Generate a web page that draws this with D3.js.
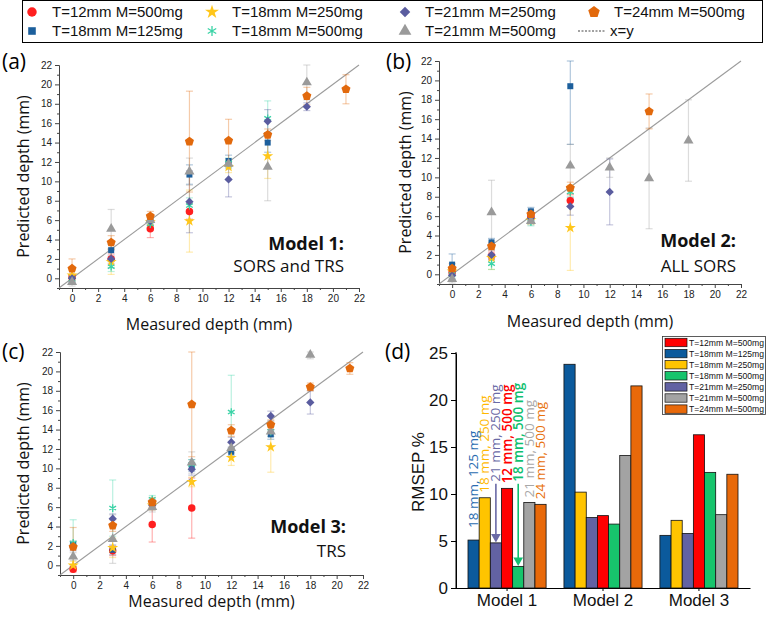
<!DOCTYPE html>
<html>
<head>
<meta charset="utf-8">
<script src="https://cdn.jsdelivr.net/npm/d3@7"></script>
<style>
  body { margin: 0; background: #fff; }
  svg { display: block; font-family: "Liberation Sans", Arial, sans-serif; }
</style>
</head>
<body>
<svg id="fig" width="767" height="621"></svg>
<script>
// ---- data ----
var seriesNames = ["T=12mm M=500mg", "T=18mm M=125mg", "T=18mm M=250mg", "T=18mm M=500mg",
                   "T=21mm M=250mg", "T=21mm M=500mg", "T=24mm M=500mg"];
var barLabels = ["12 mm, 500 mg", "18 mm, 125 mg", "18 mm, 250 mg", "18 mm, 500 mg",
                 "21 mm, 250 mg", "21 mm, 500 mg", "24 mm, 500 mg"];

// measured depth (mm) for each series
var measured = [
  [0, 3, 6, 9],
  [0, 3, 6, 9, 12, 15],
  [0, 3, 6, 9, 12, 15],
  [0, 3, 6, 9, 12, 15],
  [0, 3, 6, 9, 12, 15, 18],
  [0, 3, 6, 9, 12, 15, 18],
  [0, 3, 6, 9, 12, 15, 18, 21]
];

// (a) Model 1: SORS and TRS
var predA = [
  [0.1, 2.0, 5.1, 6.9],
  [0.0, 2.9, 6.1, 10.7, 12.1, 14.0],
  [0.3, 1.7, 5.8, 5.9, 11.5, 12.6],
  [-0.1, 1.2, 5.6, 7.5, 11.9, 16.5],
  [0.0, 2.0, 5.9, 7.9, 10.2, 16.2, 17.7],
  [-0.4, 5.1, 6.0, 11.0, 11.8, 11.5, 20.2],
  [1.0, 3.7, 6.4, 14.1, 14.2, 14.8, 18.8, 19.5]
];
var sdA = [
  [0.3, 0.5, 0.9, 0.8],
  [0.4, 0.6, 0.5, 1.0, 0.6, 1.0],
  [0.5, 1.3, 0.5, 3.2, 0.6, 2.3],
  [0.4, 0.5, 0.5, 0.8, 0.5, 1.8],
  [0.3, 0.9, 0.4, 3.2, 1.8, 1.2, 0.4],
  [0.4, 2.0, 0.5, 1.4, 0.5, 3.5, 1.8],
  [1.0, 0.7, 0.5, 5.2, 2.2, 0.6, 0.9, 1.5]
];

// (b) Model 2: ALL SORS
var predB = [
  [0.2, 1.9, 6.0, 7.6],
  [1.0, 3.3, 6.5, 19.4, null, null],
  [0.3, 1.7, 5.6, 4.8, null, null],
  [0.0, 1.1, 5.4, 8.5, null, null],
  [-0.1, 2.0, 5.8, 7.0, 8.5, null, null],
  [-0.5, 6.4, 5.5, 11.2, 11.0, 9.9, 13.8],
  [0.6, 2.9, 6.2, 8.9, null, 16.8, null, null]
];
var sdB = [
  [0.3, 0.4, 0.4, 0.6],
  [1.1, 0.4, 0.4, 6.0, 0, 0],
  [0.5, 1.2, 0.4, 4.4, 0, 0],
  [0.4, 0.6, 0.4, 0.5, 0, 0],
  [0.4, 0.5, 0.4, 0.9, 3.4, 0, 0],
  [0.4, 3.3, 0.4, 2.2, 1.0, 5.2, 4.2],
  [0.5, 0.4, 0.4, 0.6, 0, 1.8, 0, 0]
];

// (c) Model 3: TRS
var predC = [
  [-0.4, 1.5, 4.2, 5.9],
  [2.1, 1.6, 6.3, 10.3, 11.7, 13.5],
  [0.0, 1.8, 6.2, 8.6, 11.1, 12.2],
  [2.3, 5.9, 6.8, 10.4, 15.8, 13.8],
  [1.9, 4.8, 6.2, 9.9, 12.7, 15.4, 16.8],
  [0.9, 2.7, 6.0, 10.6, 12.1, 13.8, 21.7],
  [1.9, 4.1, 6.5, 16.6, 13.9, 14.5, 18.4, 20.3]
];
var sdC = [
  [0.3, 0.5, 1.8, 3.1],
  [0.4, 0.5, 0.5, 0.6, 0.4, 0.5],
  [0.4, 1.0, 0.5, 0.5, 0.8, 2.6],
  [2.4, 2.9, 0.4, 0.5, 3.8, 0.5],
  [0.4, 0.5, 0.5, 0.6, 0.5, 0.5, 1.2],
  [0.4, 2.5, 0.5, 1.1, 0.5, 0.5, 0.4],
  [2.0, 0.6, 0.5, 5.4, 0.6, 0.5, 0.4, 0.6]
];

// (d) RMSEP % per series, per model
var models = ["Model 1", "Model 2", "Model 3"];
var rmsep = [
  [10.6, 7.7, 16.3],
  [5.1, 23.8, 5.6],
  [9.6, 10.2, 7.2],
  [2.3, 6.8, 12.3],
  [4.8, 7.5, 5.8],
  [9.1, 14.1, 7.8],
  [8.9, 21.5, 12.1]
];
var barOrder = [1, 2, 4, 0, 3, 5, 6];
var depthTicks = [0, 2, 4, 6, 8, 10, 12, 14, 16, 18, 20, 22];
var depthMinor = [-1, 1, 3, 5, 7, 9, 11, 13, 15, 17, 19, 21];
var rmsepTicks = [0, 5, 10, 15, 20, 25];

// ---- styles ----
var markColors = ["#ff1f1f", "#1c5f9c", "#ffc61a", "#3ad3a6", "#5a5c9f", "#9a9a9a", "#e2690c"];
var barColors  = ["#ff0000", "#0b5a9c", "#ffc400", "#17c46c", "#6262a3", "#a3a3a3", "#e8690a"];
var textColors = ["#ff0000", "#2a6cb0", "#ffb800", "#10c070", "#6a6aa6", "#a8a8a8", "#e8700a"];

var symbolPentagon = {
  draw: function(ctx, size) {
    var r = Math.sqrt(size / (2.5 * Math.sin(2 * Math.PI / 5)));
    for (var i = 0; i < 5; i++) {
      var a = -Math.PI / 2 + i * 2 * Math.PI / 5;
      if (i === 0) ctx.moveTo(r * Math.cos(a), r * Math.sin(a));
      else ctx.lineTo(r * Math.cos(a), r * Math.sin(a));
    }
    ctx.closePath();
  }
};
var shapes = [d3.symbolCircle, d3.symbolSquare, d3.symbolStar, d3.symbolAsterisk || d3.symbolCross,
              d3.symbolDiamond2 || d3.symbolDiamond, d3.symbolTriangle, symbolPentagon];
var sizes = [44, 36, 38, 42, 44, 44, 54];

var svg = d3.select("#fig");

// ---- top legend ----
var leg = svg.append("g");
leg.append("rect").attr("x", 22.5).attr("y", 0.5).attr("width", 740).attr("height", 42)
  .attr("fill", "none").attr("stroke", "#000").attr("stroke-width", 1);
var legColX = [32, 212, 405, 594];
var legRowY = [12, 31];
seriesNames.forEach(function(name, i) {
  var cx = legColX[Math.floor(i / 2)], cy = legRowY[i % 2];
  var p = leg.append("path")
    .attr("d", d3.symbol().type(shapes[i]).size(sizes[i] * 1.6)())
    .attr("transform", "translate(" + cx + "," + cy + ")");
  if (i === 3) p.attr("fill", "none").attr("stroke", markColors[i]).attr("stroke-width", 1.3);
  else p.attr("fill", markColors[i]);
  leg.append("text").attr("x", cx + 20).attr("y", cy).attr("dy", "0.35em")
    .attr("font-size", 15).attr("fill", "#111").text(name);
});
leg.append("line").attr("x1", legColX[3] - 16).attr("x2", legColX[3] + 12)
  .attr("y1", legRowY[1]).attr("y2", legRowY[1])
  .attr("stroke", "#444").attr("stroke-width", 1).attr("stroke-dasharray", "2,1.5");
leg.append("text").attr("x", legColX[3] + 16).attr("y", legRowY[1]).attr("dy", "0.35em")
  .attr("font-size", 15).attr("fill", "#111").text("x=y");

// ---- scatter panels ----
function scatterPanel(cfg) {
  var g = svg.append("g");
  var x = d3.scaleLinear().domain([-1, 22]).range(cfg.xr);
  var y = d3.scaleLinear().domain([-1, 22]).range(cfg.yr);
  var yc = y.copy().clamp(true);

  function styleAxis(a) {
    a.select(".domain").attr("stroke", "#444");
    a.selectAll(".tick line").attr("stroke", "#444");
    a.selectAll("text").attr("font-size", 10).attr("fill", "#222")
      .attr("font-family", "'Liberation Sans', Arial, sans-serif");
  }
  var ax = g.append("g").attr("transform", "translate(0," + cfg.yr[0] + ")")
    .call(d3.axisBottom(x).tickValues(depthTicks).tickSize(4).tickSizeOuter(0).tickPadding(3));
  styleAxis(ax);
  var axm = g.append("g").attr("transform", "translate(0," + cfg.yr[0] + ")")
    .call(d3.axisBottom(x).tickValues(depthMinor).tickSize(2).tickSizeOuter(0).tickFormat(""));
  styleAxis(axm);
  var ay = g.append("g").attr("transform", "translate(" + cfg.xr[0] + ",0)")
    .call(d3.axisLeft(y).tickValues(depthTicks).tickSize(4).tickSizeOuter(0).tickPadding(3));
  styleAxis(ay);
  var aym = g.append("g").attr("transform", "translate(" + cfg.xr[0] + ",0)")
    .call(d3.axisLeft(y).tickValues(depthMinor).tickSize(2).tickSizeOuter(0).tickFormat(""));
  styleAxis(aym);

  // x = y line
  g.append("line")
    .attr("x1", x(-1)).attr("y1", y(-1)).attr("x2", x(22)).attr("y2", y(22))
    .attr("stroke", "#9c9c9c").attr("stroke-width", 1.1);

  var pts = [];
  measured.forEach(function(ms, s) {
    ms.forEach(function(m, i) {
      var p = cfg.pred[s][i];
      if (p == null) return;
      pts.push({ s: s, m: m, p: p, e: cfg.sd[s][i] || 0 });
    });
  });

  var eb = g.selectAll("g.err").data(pts.filter(function(d) { return d.e > 0; }))
    .enter().append("g").attr("class", "err")
    .attr("stroke", function(d) { return markColors[d.s]; })
    .attr("stroke-opacity", 0.35).attr("stroke-width", 1.2);
  eb.append("line")
    .attr("x1", function(d) { return x(d.m); }).attr("x2", function(d) { return x(d.m); })
    .attr("y1", function(d) { return yc(d.p - d.e); }).attr("y2", function(d) { return yc(d.p + d.e); });
  [-1, 1].forEach(function(sg) {
    eb.append("line")
      .attr("x1", function(d) { return x(d.m) - 3.5; }).attr("x2", function(d) { return x(d.m) + 3.5; })
      .attr("y1", function(d) { return yc(d.p + sg * d.e); }).attr("y2", function(d) { return yc(d.p + sg * d.e); });
  });

  g.selectAll("path.pt").data(pts).enter().append("path").attr("class", "pt")
    .attr("d", function(d) { return d3.symbol().type(shapes[d.s]).size(sizes[d.s])(); })
    .attr("transform", function(d) { return "translate(" + x(d.m) + "," + y(d.p) + ")"; })
    .attr("fill", function(d) { return d.s === 3 ? "none" : markColors[d.s]; })
    .attr("stroke", function(d) { return d.s === 3 ? markColors[d.s] : "none"; })
    .attr("stroke-width", 1.3);

  // labels
  g.append("text").attr("x", cfg.letter[1]).attr("y", cfg.letter[2])
    .attr("font-family", "'Open Sans', sans-serif").attr("font-size", 21).text(cfg.letter[0]);
  g.append("text")
    .attr("transform", "translate(" + cfg.ylabX + "," + ((cfg.yr[0] + cfg.yr[1]) / 2) + ") rotate(-90)")
    .attr("text-anchor", "middle").attr("font-family", "'Open Sans', sans-serif")
    .attr("font-size", 16).attr("fill", "#111").text("Predicted depth (mm)");
  g.append("text").attr("x", (cfg.xr[0] + cfg.xr[1]) / 2).attr("y", cfg.xlabY)
    .attr("text-anchor", "middle").attr("font-family", "'Open Sans', sans-serif")
    .attr("font-size", 16).attr("fill", "#111").text("Measured depth (mm)");
  g.append("text").attr("x", cfg.modelX).attr("y", cfg.modelY[0]).attr("text-anchor", "end")
    .attr("font-family", "'Open Sans', sans-serif").attr("font-weight", "bold")
    .attr("font-size", 18).attr("fill", "#111").text(cfg.model[0]);
  g.append("text").attr("x", cfg.modelX).attr("y", cfg.modelY[1]).attr("text-anchor", "end")
    .attr("font-family", "'Open Sans', sans-serif")
    .attr("font-size", 17).attr("fill", "#111").text(cfg.model[1]);
}

scatterPanel({ xr: [59, 359], yr: [288, 65], pred: predA, sd: sdA,
  letter: ["(a)", 2, 69], ylabX: 29, xlabY: 330,
  model: ["Model 1:", "SORS and TRS"], modelX: 344, modelY: [250, 272] });
scatterPanel({ xr: [439, 741], yr: [284, 61], pred: predB, sd: sdB,
  letter: ["(b)", 386, 69], ylabX: 411, xlabY: 327,
  model: ["Model 2:", "ALL SORS"], modelX: 736, modelY: [247, 272] });
scatterPanel({ xr: [60, 363], yr: [575, 352], pred: predC, sd: sdC,
  letter: ["(c)", 2, 359], ylabX: 29, xlabY: 607,
  model: ["Model 3:", "TRS"], modelX: 346, modelY: [533, 557] });

// ---- (d) RMSEP bars ----
var gd = svg.append("g");
var xb = d3.scaleBand().domain(models).range([456, 750]).paddingInner(0.186).paddingOuter(0.125);
var xs = d3.scaleBand().domain(barOrder).range([0, xb.bandwidth()]);
var yb = d3.scaleLinear().domain([0, 25]).range([588, 353]);

var axd = gd.append("g").attr("transform", "translate(0,588)")
  .call(d3.axisBottom(xb).tickSize(3).tickSizeOuter(0).tickPadding(3));
axd.selectAll("text").attr("font-size", 17).attr("fill", "#111")
  .attr("font-family", "'Liberation Sans', Arial, sans-serif");
var ayd = gd.append("g").attr("transform", "translate(456,0)")
  .call(d3.axisLeft(yb).tickValues(rmsepTicks).tickSize(5).tickSizeOuter(0).tickPadding(3));
ayd.selectAll("text").attr("font-size", 17).attr("fill", "#111")
  .attr("font-family", "'Liberation Sans', Arial, sans-serif");
gd.append("line").attr("x1", 456).attr("x2", 456).attr("y1", 588).attr("y2", 352).attr("stroke", "#000");
gd.append("line").attr("x1", 456).attr("x2", 750).attr("y1", 588.5).attr("y2", 588.5).attr("stroke", "#000");

var bars = [];
models.forEach(function(m, mi) {
  barOrder.forEach(function(s) { bars.push({ m: m, mi: mi, s: s, v: rmsep[s][mi] }); });
});
gd.selectAll("rect.bar").data(bars).enter().append("rect").attr("class", "bar")
  .attr("x", function(d) { return xb(d.m) + xs(d.s); })
  .attr("width", xs.bandwidth())
  .attr("y", function(d) { return yb(d.v); })
  .attr("height", function(d) { return yb(0) - yb(d.v); })
  .attr("fill", function(d) { return barColors[d.s]; })
  .attr("stroke", "#111").attr("stroke-width", 0.8);

// rotated labels over Model 1 bars, with arrows for the short ones
var labelFloor = 11.3;
bars.filter(function(d) { return d.mi === 0; }).forEach(function(d) {
  var cx = xb(d.m) + xs(d.s) + xs.bandwidth() / 2;
  var top = yb(d.v);
  var start = d.v < 5 ? yb(labelFloor) : top - 5;
  if (d.s === 1) start = top - 12;
  gd.append("text")
    .attr("transform", "translate(" + (cx + 4.5) + "," + start + ") rotate(-90)")
    .attr("font-family", "'Open Sans', sans-serif").attr("font-size", 13.5)
    .attr("font-weight", (d.s === 0 || d.s === 3) ? 600 : 400)
    .attr("fill", textColors[d.s]).text(barLabels[d.s]);
  if (d.v < 5) {
    gd.append("line").attr("x1", cx).attr("x2", cx).attr("y1", start + 2).attr("y2", top - 8)
      .attr("stroke", textColors[d.s]).attr("stroke-width", 1.6);
    gd.append("path")
      .attr("d", d3.symbol().type(d3.symbolTriangle).size(40)())
      .attr("transform", "translate(" + cx + "," + (top - 6) + ") rotate(180)")
      .attr("fill", textColors[d.s]);
  }
});

gd.append("text").attr("transform", "translate(424,472) rotate(-90)")
  .attr("text-anchor", "middle").attr("font-size", 17).attr("fill", "#111").text("RMSEP %");
gd.append("text").attr("x", 385).attr("y", 359)
  .attr("font-family", "'Open Sans', sans-serif").attr("font-size", 21).text("(d)");

// legend inside (d)
var lg = gd.append("g");
lg.append("rect").attr("x", 662.5).attr("y", 336.5).attr("width", 103).attr("height", 78)
  .attr("fill", "#fff").attr("stroke", "#333").attr("stroke-width", 0.8);
seriesNames.forEach(function(name, i) {
  var ry = 337 + i * 11.1;
  lg.append("rect").attr("x", 665).attr("y", ry + 1.3).attr("width", 22).attr("height", 8.4)
    .attr("fill", barColors[i]).attr("stroke", "#111").attr("stroke-width", 0.7);
  lg.append("text").attr("x", 689).attr("y", ry + 5.6).attr("dy", "0.35em")
    .attr("font-size", 8.6).attr("fill", "#111").text(name);
});
</script>
</body>
</html>
